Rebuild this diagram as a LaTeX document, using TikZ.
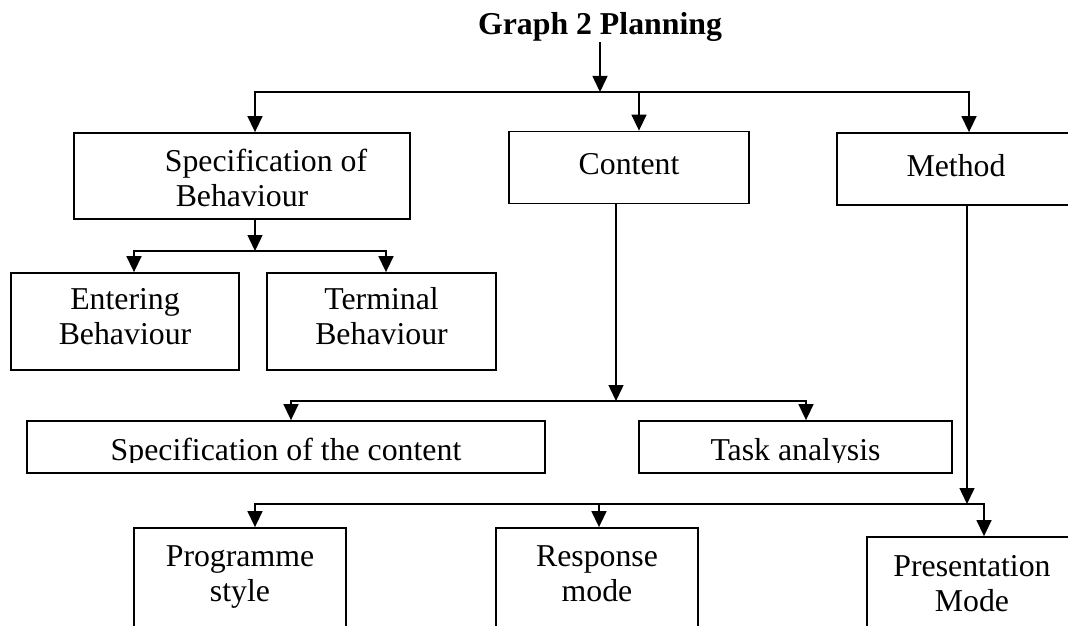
\documentclass[tikz,border=0pt]{standalone}
\usepackage{fontspec}
\setmainfont{Liberation Serif}
\usetikzlibrary{arrows.meta, positioning}

\newcommand{\boxfont}{\fontsize{31.8}{35}\selectfont}

\begin{document}
\begin{tikzpicture}[x=1pt, y=-1pt,
        box/.style = {draw, line width=1.8pt, inner sep=0pt, align=center, font=\boxfont,
                      execute at begin node=\strut, execute at end node=\strut},
        box text/.style = {inner sep=0pt, align=center, font=\boxfont,
                      execute at begin node=\strut, execute at end node=\strut},
        arrow/.style = {-{Triangle[length=16pt, width=15pt]}, line width=1.5pt}
    ]
    \useasboundingbox (0,0) rectangle (1068,626);

    % Nodes
    \node (title) [font=\boxfont\bfseries, inner sep=0pt, anchor=base] at (600,35) {Graph 2 Planning};
    \node (specb) [box, minimum width=336pt, minimum height=86pt] at (242,176) {};
    \node (content) [box, minimum width=240pt, minimum height=72pt] at (629,167.5) {Content};
    \node (method) [box, minimum width=238pt, minimum height=72pt] at (956,169) {Method};
    \node (entering) [box, minimum width=228pt, minimum height=97pt] at (125,321.5) {Entering\\Behaviour};
    \node (terminal) [box, minimum width=229pt, minimum height=97pt, right=26.2pt of entering] {Terminal\\Behaviour};
    \node (speccontent) [box, minimum width=518pt, minimum height=52pt] at (286,447) {};
    \node (task) [box, minimum width=313pt, minimum height=52pt, right=92.2pt of speccontent] {};
    \node (programme) [box, minimum width=212pt, minimum height=102pt] at (240,579) {Programme\\style};
    \node (response) [box, minimum width=202pt, minimum height=102pt, right=148.2pt of programme] {Response\\mode};
    \node (presentation) [box, minimum width=210pt, minimum height=103pt] at (972,588.5) {Presentation\\Mode};

    % text that runs past the lower margin of its box
    \begin{scope}
        \clip (specb.north west) rectangle ([yshift=9pt]specb.south east);
        \node (specbtext) [box text, yshift=-7.5pt] at (specb) {\hspace*{48pt}Specification of\\Behaviour};
    \end{scope}
    \begin{scope}
        \clip (speccontent.north west) rectangle ([yshift=11pt]speccontent.south east);
        \node (speccontenttext) [box text, yshift=-6pt] at (speccontent) {Specification of the content};
    \end{scope}
    \begin{scope}
        \clip (task.north west) rectangle ([yshift=11pt]task.south east);
        \node (tasktext) [box text, yshift=-6pt] at (task) {Task analysis};
    \end{scope}

    % Arrows
    \coordinate (split1) at (600,92);
    \coordinate (split2) at (255,251);
    \coordinate (split3) at (616,401);
    \coordinate (split4) at (967,504);

    \draw[arrow] (title.south) -- (split1);
    \draw[arrow] (split1) -| ([xshift=13pt]specb.north);
    \draw[arrow] (split1) -| ([xshift=10pt]content.north);
    \draw[arrow] (split1) -| ([xshift=13pt]method.north);

    \draw[arrow] ([xshift=13pt]specb.south) -- (split2);
    \draw[arrow] (split2) -| ([xshift=9pt]entering.north);
    \draw[arrow] (split2) -| ([xshift=4.5pt]terminal.north);

    \draw[arrow] ([xshift=-13pt]content.south) -- (split3);
    \draw[arrow] (split3) -| ([xshift=5pt]speccontent.north);
    \draw[arrow] (split3) -| ([xshift=10.5pt]task.north);

    \draw[arrow] ([xshift=11pt]method.south) -- (split4);
    \draw[arrow] (split4) -| ([xshift=15pt]programme.north);
    \draw[arrow] (split4) -| ([xshift=2pt]response.north);
    \draw[arrow] (split4) -| ([xshift=12pt]presentation.north);

\end{tikzpicture}
\end{document}
